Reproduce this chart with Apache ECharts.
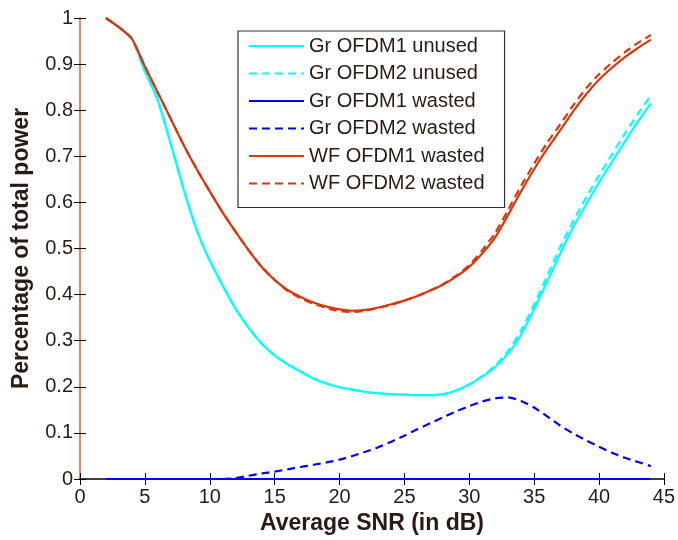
<!DOCTYPE html>
<html>
<head>
<meta charset="utf-8">
<script src="https://cdn.jsdelivr.net/npm/echarts@6/dist/echarts.min.js"></script>
<style>
html,body{margin:0;padding:0;background:#fff;}
#chart{width:678px;height:540px;}
</style>
</head>
<body>
<div id="chart"></div>
<script>
// SNR values (dB)
const snr = [2,3,4,5,6,7,8,9,10,11,12,13,14,15,16,17,18,19,20,21,22,23,24,25,26,27,28,29,30,31,32,33,34,35,36,37,38,39,40,41,42,43,44];

const grOfdm1Unused = [1.0,0.98,0.955,0.885,0.822,0.727,0.628,0.54,0.474,0.42,0.369,0.328,0.294,0.268,0.249,0.233,0.218,0.207,0.199,0.194,0.189,0.186,0.184,0.183,0.182,0.182,0.184,0.192,0.205,0.222,0.243,0.272,0.313,0.368,0.428,0.488,0.545,0.595,0.643,0.688,0.732,0.775,0.815];
const grOfdm2Unused = [1.0,0.98,0.955,0.885,0.822,0.727,0.628,0.54,0.474,0.42,0.369,0.328,0.294,0.268,0.249,0.233,0.218,0.207,0.199,0.194,0.189,0.186,0.184,0.183,0.182,0.182,0.184,0.192,0.205,0.223,0.246,0.278,0.322,0.378,0.44,0.502,0.558,0.61,0.658,0.704,0.749,0.792,0.832];
const grOfdm1Wasted = [0,0,0,0,0,0,0,0,0,0,0,0,0,0,0,0,0,0,0,0,0,0,0,0,0,0,0,0,0,0,0,0,0,0,0,0,0,0,0,0,0,0,0];
const grOfdm2Wasted = [0,0,0,0,0,0,0,0,0,0,0.002,0.007,0.012,0.016,0.021,0.026,0.031,0.036,0.042,0.05,0.059,0.069,0.081,0.094,0.108,0.121,0.134,0.147,0.158,0.168,0.175,0.177,0.169,0.155,0.136,0.116,0.099,0.084,0.07,0.057,0.046,0.037,0.028];
const wfOfdm1Wasted = [1.0,0.98,0.955,0.895,0.838,0.781,0.724,0.672,0.624,0.578,0.536,0.496,0.46,0.432,0.41,0.395,0.383,0.374,0.368,0.365,0.367,0.372,0.379,0.387,0.397,0.409,0.422,0.439,0.46,0.489,0.524,0.573,0.624,0.672,0.716,0.756,0.797,0.834,0.866,0.892,0.915,0.935,0.953];
const wfOfdm2Wasted = [1.0,0.98,0.955,0.895,0.838,0.781,0.724,0.672,0.624,0.578,0.536,0.496,0.46,0.432,0.408,0.392,0.38,0.371,0.364,0.362,0.365,0.371,0.378,0.387,0.397,0.409,0.423,0.441,0.464,0.496,0.534,0.584,0.636,0.684,0.729,0.769,0.81,0.847,0.878,0.903,0.926,0.946,0.963];

const xTicks = [0,5,10,15,20,25,30,35,40,45];
const yTicks = [0,0.1,0.2,0.3,0.4,0.5,0.6,0.7,0.8,0.9,1];

const seriesNames = ['Gr OFDM1 unused','Gr OFDM2 unused','Gr OFDM1 wasted','Gr OFDM2 wasted','WF OFDM1 wasted','WF OFDM2 wasted'];
const seriesValues = [grOfdm1Unused, grOfdm2Unused, grOfdm1Wasted, grOfdm2Wasted, wfOfdm1Wasted, wfOfdm2Wasted];
const seriesColors = ['#00ffff','#00ffff','#0000ff','#0000ff','#d8380c','#d8380c'];
const seriesDash = ['solid',[8,5],'solid',[8,5],'solid',[8,5]];

const txt = '#2a1a14';
const FONT = 'Liberation Sans, Arial, sans-serif';

const chart = echarts.init(document.getElementById('chart'), null, {renderer:'canvas'});

const series = seriesNames.map((n,i)=>({
  name:n, type:'line', symbol:'none', showSymbol:false,
  smooth:0.2,
  data: snr.map((x,j)=>[x, seriesValues[i][j]]),
  lineStyle:{color:seriesColors[i], width:2.2, type:seriesDash[i]},
  itemStyle:{color:seriesColors[i]},
  emphasis:{disabled:true}, animation:false
}));

chart.setOption({
  backgroundColor:'#fff',
  animation:false,
  grid:{left:80, right:10, top:18, bottom:60},
  legend:{
    orient:'vertical', left:238, top:31,
    data:seriesNames,
    itemWidth:55, itemHeight:14, itemGap:7.5,
    padding:[5,20,14,10],
    borderColor:'#333', borderWidth:1.2, backgroundColor:'#fff',
    itemStyle:{opacity:0},
    textStyle:{color:txt, fontSize:20, fontFamily:FONT, lineHeight:20},
    selectedMode:false
  },
  xAxis:[{
    type:'value', min:0, max:45, interval:5, position:'bottom',
    axisLine:{show:true, lineStyle:{color:'#000', width:1.5}},
    axisTick:{show:true, inside:true, length:6, lineStyle:{color:'#000'}},
    axisLabel:{color:txt, fontSize:20, fontFamily:FONT, margin:8,
      formatter:v=>xTicks.includes(v)?String(v):''},
    splitLine:{show:false},
    name:'Average SNR (in dB)', nameLocation:'middle', nameGap:33,
    nameTextStyle:{color:txt, fontSize:23, fontWeight:'bold', fontFamily:FONT}
  },{
    type:'value', min:0, max:45, interval:5, position:'top',
    axisLine:{show:false},
    axisTick:{show:true, inside:true, length:6, lineStyle:{color:'#000'}},
    axisLabel:{show:false}, splitLine:{show:false}
  }],
  yAxis:[{
    type:'value', min:0, max:1, interval:0.1, position:'left',
    axisLine:{show:true, lineStyle:{color:'#e8583a', width:1.5}},
    axisTick:{show:true, inside:true, length:6, lineStyle:{color:'#000'}},
    axisLabel:{color:txt, fontSize:20, fontFamily:FONT, margin:7,
      formatter:v=>{const t=yTicks.find(k=>Math.abs(k-v)<1e-9); if(t===undefined) return ''; return (t===0||t===1)?String(t):t.toFixed(1);}},
    splitLine:{show:false},
    name:'Percentage of total power', nameLocation:'middle', nameGap:47, nameRotate:90,
    nameTextStyle:{color:txt, fontSize:23, fontWeight:'bold', fontFamily:FONT}
  },{
    type:'value', min:0, max:1, interval:0.1, position:'right',
    axisLine:{show:false},
    axisTick:{show:true, inside:true, length:6, lineStyle:{color:'#000'}},
    axisLabel:{show:false}, splitLine:{show:false}
  }],
  series: series
});
</script>
</body>
</html>
